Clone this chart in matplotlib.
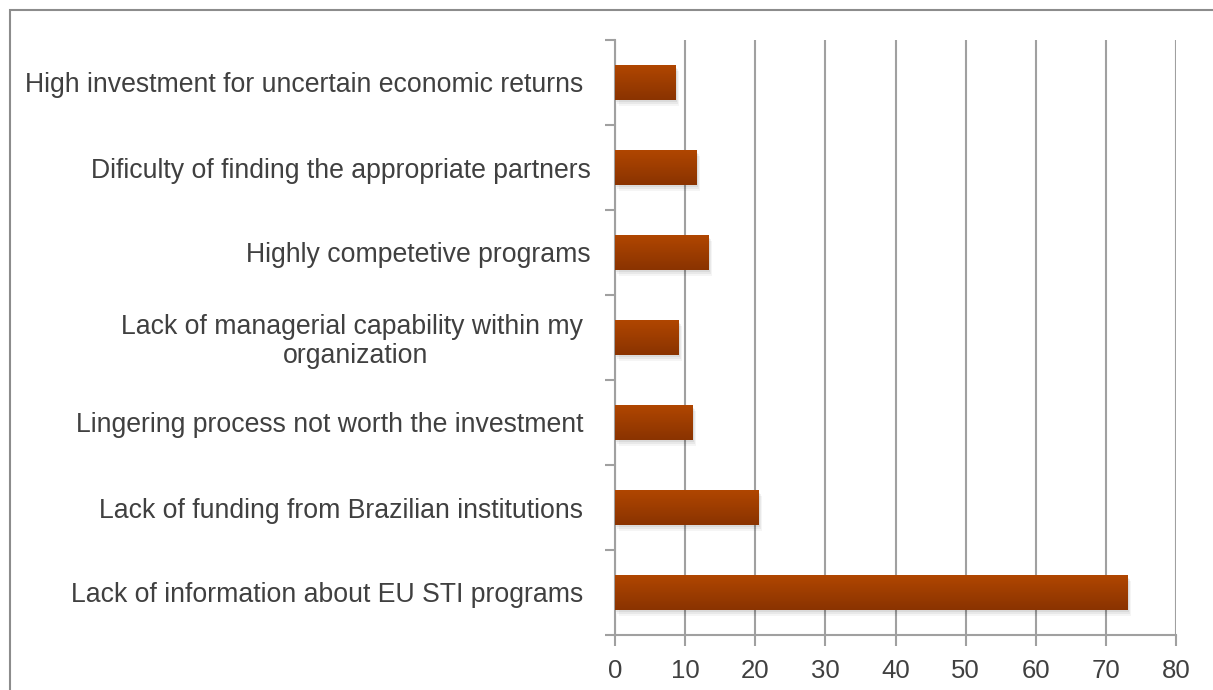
import numpy as np
import matplotlib.pyplot as plt
from matplotlib.colors import LinearSegmentedColormap
from matplotlib.patches import Rectangle

categories = [
    "Lack of information about EU STI programs ",
    "Lack of funding from Brazilian institutions ",
    "Lingering process not worth the investment ",
    "Lack of managerial capability within my \norganization",
    "Highly competetive programs",
    "Dificulty of finding the appropriate partners",
    "High investment for uncertain economic returns ",
]
values = [73.1, 20.5, 11.1, 9.0, 13.3, 11.6, 8.6]
xticks = [0, 10, 20, 30, 40, 50, 60, 70, 80]

plt.rcParams["font.family"] = ["Liberation Sans", "DejaVu Sans"]
text_color = "#404040"
line_color = "#a0a0a0"

fig = plt.figure(figsize=(12.13, 6.9), dpi=100)
ax = fig.add_axes([615 / 1213, 1 - 635 / 690, (1176 - 615) / 1213, (635 - 40) / 690])

# outer frame of the chart area
fig.patches.append(Rectangle((10 / 1213, -0.1), 1.2, 1.1 - 10 / 690,
                             transform=fig.transFigure, fill=False,
                             edgecolor="#8c8c8c", linewidth=1.5))

cmap = LinearSegmentedColormap.from_list("bar", ["#b04600", "#8a3300"])
grad = np.linspace(0, 1, 64).reshape(-1, 1)
h = 0.41
for i, v in enumerate(values):
    # soft shadow
    for k, a in enumerate([0.06, 0.05, 0.04]):
        ax.add_patch(Rectangle((0.2 + 0.15 * k, i - h / 2 - 0.03 - 0.02 * k), v, h,
                               facecolor="black", alpha=a, edgecolor="none", zorder=2))
    ax.imshow(grad, cmap=cmap, aspect="auto", origin="upper",
              extent=(0, v, i - h / 2, i + h / 2), zorder=3, interpolation="bilinear")

ax.set_xlim(0, 80)
ax.set_ylim(-0.5, len(categories) - 0.5)

ax.set_xticks(xticks)
ax.set_xticklabels([str(t) for t in xticks])
ax.set_yticks(np.arange(-0.5, len(categories), 1.0))
ax.set_yticklabels([])
ax.set_yticks(np.arange(len(categories)), minor=True)
ax.set_yticklabels(categories, minor=True)
for lab in ax.get_yticklabels(minor=True):
    lab.set_multialignment("center")
    lab.set_linespacing(1.12)

ax.tick_params(axis="x", which="major", length=8, width=1.5, color=line_color,
               labelsize=18.5, labelcolor=text_color, pad=9)
ax.tick_params(axis="y", which="major", length=7, width=1.5, color=line_color)
ax.tick_params(axis="y", which="minor", length=0, labelsize=19.2,
               labelcolor=text_color, pad=17.5)

ax.grid(axis="x", color=line_color, linewidth=1.5, zorder=1)
ax.set_axisbelow(True)
for side in ["top", "right"]:
    ax.spines[side].set_visible(False)
for side in ["left", "bottom"]:
    ax.spines[side].set_color(line_color)
    ax.spines[side].set_linewidth(1.5)

fig.savefig("out.png", dpi=100)
